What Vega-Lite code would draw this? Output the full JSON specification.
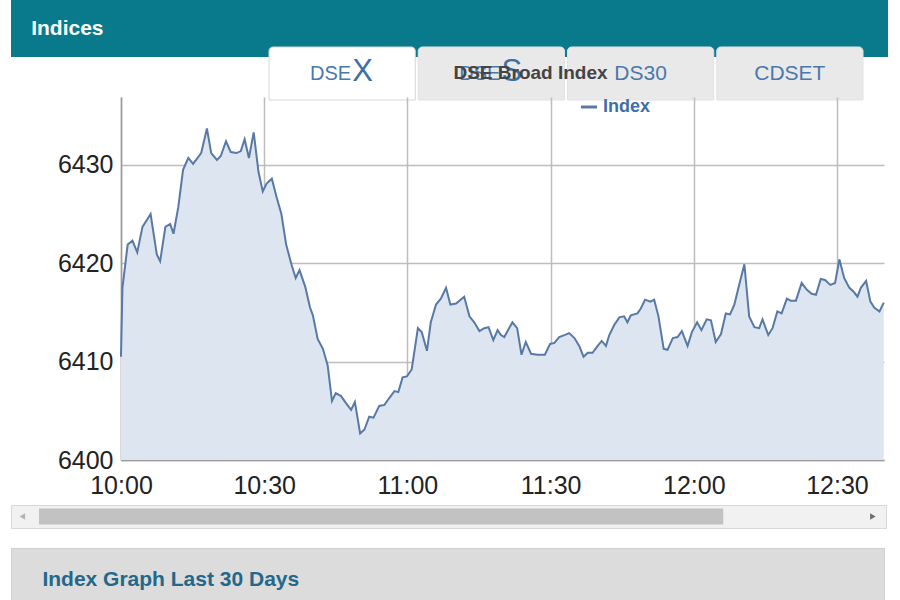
{
  "$schema": "https://vega.github.io/schema/vega-lite/v6.json",
  "padding": {"left": 10, "top": 0, "right": 13, "bottom": 0},
  "background": "white",
  "spacing": 0,
  "bounds": "flush",
  "config": {"view": {"stroke": null}, "font": "Liberation Sans"},
  "datasets": {
    "series": [
      {"time": "2024-01-01T10:00:00", "index": 6410.5},
      {"time": "2024-01-01T10:00:18", "index": 6417.5},
      {"time": "2024-01-01T10:01:24", "index": 6421.9},
      {"time": "2024-01-01T10:02:24", "index": 6422.3},
      {"time": "2024-01-01T10:03:24", "index": 6421.1},
      {"time": "2024-01-01T10:04:30", "index": 6423.7},
      {"time": "2024-01-01T10:06:12", "index": 6425.0},
      {"time": "2024-01-01T10:07:30", "index": 6420.9},
      {"time": "2024-01-01T10:08:12", "index": 6420.2},
      {"time": "2024-01-01T10:09:18", "index": 6423.7},
      {"time": "2024-01-01T10:10:18", "index": 6424.0},
      {"time": "2024-01-01T10:11:00", "index": 6423.0},
      {"time": "2024-01-01T10:12:00", "index": 6425.7},
      {"time": "2024-01-01T10:13:00", "index": 6429.5},
      {"time": "2024-01-01T10:14:06", "index": 6430.7},
      {"time": "2024-01-01T10:15:06", "index": 6430.1},
      {"time": "2024-01-01T10:16:48", "index": 6431.2},
      {"time": "2024-01-01T10:18:00", "index": 6433.7},
      {"time": "2024-01-01T10:18:54", "index": 6431.2},
      {"time": "2024-01-01T10:20:06", "index": 6430.5},
      {"time": "2024-01-01T10:20:54", "index": 6430.9},
      {"time": "2024-01-01T10:22:00", "index": 6432.4},
      {"time": "2024-01-01T10:23:00", "index": 6431.3},
      {"time": "2024-01-01T10:24:12", "index": 6431.2},
      {"time": "2024-01-01T10:25:06", "index": 6431.4},
      {"time": "2024-01-01T10:25:54", "index": 6432.6},
      {"time": "2024-01-01T10:26:48", "index": 6430.7},
      {"time": "2024-01-01T10:27:48", "index": 6433.3},
      {"time": "2024-01-01T10:28:48", "index": 6429.3},
      {"time": "2024-01-01T10:29:42", "index": 6427.3},
      {"time": "2024-01-01T10:30:30", "index": 6428.1},
      {"time": "2024-01-01T10:31:36", "index": 6428.6},
      {"time": "2024-01-01T10:32:36", "index": 6426.7},
      {"time": "2024-01-01T10:33:36", "index": 6425.0},
      {"time": "2024-01-01T10:34:36", "index": 6421.9},
      {"time": "2024-01-01T10:35:42", "index": 6419.9},
      {"time": "2024-01-01T10:36:36", "index": 6418.5},
      {"time": "2024-01-01T10:37:24", "index": 6419.3},
      {"time": "2024-01-01T10:38:36", "index": 6417.6},
      {"time": "2024-01-01T10:39:36", "index": 6415.5},
      {"time": "2024-01-01T10:40:12", "index": 6414.7},
      {"time": "2024-01-01T10:41:12", "index": 6412.3},
      {"time": "2024-01-01T10:42:18", "index": 6411.3},
      {"time": "2024-01-01T10:43:18", "index": 6409.6},
      {"time": "2024-01-01T10:44:12", "index": 6406.0},
      {"time": "2024-01-01T10:45:00", "index": 6406.8},
      {"time": "2024-01-01T10:46:06", "index": 6406.5},
      {"time": "2024-01-01T10:47:06", "index": 6405.8},
      {"time": "2024-01-01T10:48:12", "index": 6405.1},
      {"time": "2024-01-01T10:49:00", "index": 6405.9},
      {"time": "2024-01-01T10:50:06", "index": 6402.7},
      {"time": "2024-01-01T10:51:00", "index": 6403.1},
      {"time": "2024-01-01T10:52:00", "index": 6404.4},
      {"time": "2024-01-01T10:52:54", "index": 6404.3},
      {"time": "2024-01-01T10:54:06", "index": 6405.5},
      {"time": "2024-01-01T10:55:12", "index": 6405.6},
      {"time": "2024-01-01T10:56:12", "index": 6406.3},
      {"time": "2024-01-01T10:57:18", "index": 6407.0},
      {"time": "2024-01-01T10:58:06", "index": 6406.9},
      {"time": "2024-01-01T10:59:00", "index": 6408.4},
      {"time": "2024-01-01T10:59:54", "index": 6408.5},
      {"time": "2024-01-01T11:00:54", "index": 6409.2},
      {"time": "2024-01-01T11:02:12", "index": 6413.4},
      {"time": "2024-01-01T11:03:00", "index": 6413.0},
      {"time": "2024-01-01T11:04:06", "index": 6411.1},
      {"time": "2024-01-01T11:04:54", "index": 6414.0},
      {"time": "2024-01-01T11:06:00", "index": 6415.8},
      {"time": "2024-01-01T11:07:00", "index": 6416.4},
      {"time": "2024-01-01T11:08:06", "index": 6417.5},
      {"time": "2024-01-01T11:09:00", "index": 6415.8},
      {"time": "2024-01-01T11:10:12", "index": 6415.9},
      {"time": "2024-01-01T11:11:54", "index": 6416.6},
      {"time": "2024-01-01T11:13:00", "index": 6414.6},
      {"time": "2024-01-01T11:14:00", "index": 6414.0},
      {"time": "2024-01-01T11:15:06", "index": 6413.1},
      {"time": "2024-01-01T11:16:06", "index": 6413.4},
      {"time": "2024-01-01T11:17:00", "index": 6413.5},
      {"time": "2024-01-01T11:18:00", "index": 6412.2},
      {"time": "2024-01-01T11:18:54", "index": 6413.2},
      {"time": "2024-01-01T11:19:36", "index": 6412.7},
      {"time": "2024-01-01T11:20:18", "index": 6412.5},
      {"time": "2024-01-01T11:21:18", "index": 6413.4},
      {"time": "2024-01-01T11:22:00", "index": 6414.0},
      {"time": "2024-01-01T11:23:00", "index": 6413.4},
      {"time": "2024-01-01T11:23:54", "index": 6410.7},
      {"time": "2024-01-01T11:24:48", "index": 6412.0},
      {"time": "2024-01-01T11:25:54", "index": 6410.8},
      {"time": "2024-01-01T11:27:18", "index": 6410.7},
      {"time": "2024-01-01T11:28:48", "index": 6410.7},
      {"time": "2024-01-01T11:29:54", "index": 6411.8},
      {"time": "2024-01-01T11:30:48", "index": 6411.9},
      {"time": "2024-01-01T11:31:48", "index": 6412.5},
      {"time": "2024-01-01T11:32:54", "index": 6412.7},
      {"time": "2024-01-01T11:33:54", "index": 6412.9},
      {"time": "2024-01-01T11:35:00", "index": 6412.4},
      {"time": "2024-01-01T11:36:00", "index": 6411.6},
      {"time": "2024-01-01T11:36:54", "index": 6410.5},
      {"time": "2024-01-01T11:37:48", "index": 6410.9},
      {"time": "2024-01-01T11:38:48", "index": 6410.9},
      {"time": "2024-01-01T11:39:42", "index": 6411.5},
      {"time": "2024-01-01T11:40:42", "index": 6412.1},
      {"time": "2024-01-01T11:41:36", "index": 6411.6},
      {"time": "2024-01-01T11:42:18", "index": 6412.7},
      {"time": "2024-01-01T11:43:18", "index": 6413.7},
      {"time": "2024-01-01T11:44:24", "index": 6414.5},
      {"time": "2024-01-01T11:45:24", "index": 6414.6},
      {"time": "2024-01-01T11:46:06", "index": 6414.0},
      {"time": "2024-01-01T11:46:48", "index": 6414.7},
      {"time": "2024-01-01T11:48:12", "index": 6414.9},
      {"time": "2024-01-01T11:48:54", "index": 6415.4},
      {"time": "2024-01-01T11:49:48", "index": 6416.3},
      {"time": "2024-01-01T11:50:54", "index": 6416.1},
      {"time": "2024-01-01T11:51:42", "index": 6416.3},
      {"time": "2024-01-01T11:52:36", "index": 6414.6},
      {"time": "2024-01-01T11:53:42", "index": 6411.3},
      {"time": "2024-01-01T11:54:30", "index": 6411.2},
      {"time": "2024-01-01T11:55:36", "index": 6412.4},
      {"time": "2024-01-01T11:56:36", "index": 6412.5},
      {"time": "2024-01-01T11:57:30", "index": 6413.1},
      {"time": "2024-01-01T11:58:42", "index": 6411.6},
      {"time": "2024-01-01T11:59:36", "index": 6413.0},
      {"time": "2024-01-01T12:00:42", "index": 6414.0},
      {"time": "2024-01-01T12:01:36", "index": 6413.2},
      {"time": "2024-01-01T12:02:42", "index": 6414.3},
      {"time": "2024-01-01T12:03:36", "index": 6414.2},
      {"time": "2024-01-01T12:04:36", "index": 6412.0},
      {"time": "2024-01-01T12:05:42", "index": 6412.8},
      {"time": "2024-01-01T12:06:42", "index": 6414.9},
      {"time": "2024-01-01T12:07:36", "index": 6414.8},
      {"time": "2024-01-01T12:08:30", "index": 6415.8},
      {"time": "2024-01-01T12:09:30", "index": 6417.8},
      {"time": "2024-01-01T12:10:36", "index": 6419.9},
      {"time": "2024-01-01T12:11:36", "index": 6414.6},
      {"time": "2024-01-01T12:12:42", "index": 6413.5},
      {"time": "2024-01-01T12:13:42", "index": 6413.4},
      {"time": "2024-01-01T12:14:24", "index": 6414.3},
      {"time": "2024-01-01T12:15:36", "index": 6412.7},
      {"time": "2024-01-01T12:16:30", "index": 6413.4},
      {"time": "2024-01-01T12:17:30", "index": 6415.1},
      {"time": "2024-01-01T12:18:24", "index": 6414.9},
      {"time": "2024-01-01T12:19:30", "index": 6416.4},
      {"time": "2024-01-01T12:20:18", "index": 6416.2},
      {"time": "2024-01-01T12:21:24", "index": 6416.2},
      {"time": "2024-01-01T12:22:36", "index": 6418.0},
      {"time": "2024-01-01T12:23:42", "index": 6417.3},
      {"time": "2024-01-01T12:24:42", "index": 6416.9},
      {"time": "2024-01-01T12:25:36", "index": 6416.8},
      {"time": "2024-01-01T12:26:36", "index": 6418.4},
      {"time": "2024-01-01T12:27:30", "index": 6418.3},
      {"time": "2024-01-01T12:28:36", "index": 6417.8},
      {"time": "2024-01-01T12:29:36", "index": 6418.0},
      {"time": "2024-01-01T12:30:30", "index": 6420.4},
      {"time": "2024-01-01T12:31:30", "index": 6418.5},
      {"time": "2024-01-01T12:32:36", "index": 6417.5},
      {"time": "2024-01-01T12:33:30", "index": 6417.1},
      {"time": "2024-01-01T12:34:18", "index": 6416.6},
      {"time": "2024-01-01T12:35:00", "index": 6417.5},
      {"time": "2024-01-01T12:36:06", "index": 6418.2},
      {"time": "2024-01-01T12:37:00", "index": 6416.1},
      {"time": "2024-01-01T12:37:48", "index": 6415.5},
      {"time": "2024-01-01T12:38:54", "index": 6415.1},
      {"time": "2024-01-01T12:39:48", "index": 6416.0}
    ],
    "tabs": [
      {"tab": "DSEX", "small": "DSE", "big": "X", "selected": true},
      {"tab": "DSES", "small": "DSE", "big": "S", "selected": false},
      {"tab": "DS30", "small": "DS30", "big": "", "selected": false},
      {"tab": "CDSET", "small": "CDSET", "big": "", "selected": false}
    ]
  },
  "vconcat": [
    {
      "width": 877,
      "height": 57,
      "view": {"fill": "#087a8c", "stroke": null},
      "data": {"values": [{"label": "Indices"}]},
      "mark": {"type": "text", "align": "left", "baseline": "middle", "fontSize": 21, "fontWeight": "bold", "color": "white"},
      "encoding": {
        "x": {"datum": 0.023, "type": "quantitative", "scale": {"domain": [0, 1]}, "axis": null},
        "y": {"datum": 0.5, "type": "quantitative", "scale": {"domain": [0, 1]}, "axis": null},
        "text": {"field": "label"}
      }
    },
    {
      "width": 877,
      "height": 40,
      "data": {"name": "tabs"},
      "encoding": {
        "x": {"field": "tab", "type": "nominal", "sort": null, "scale": {"paddingInner": 0.02, "paddingOuter": 0, "range": [258, 852]}, "axis": null}
      },
      "layer": [
        {
          "mark": {"type": "bar", "cornerRadiusTopLeft": 4, "cornerRadiusTopRight": 4, "strokeWidth": 1},
          "encoding": {
            "y": {"datum": 1.25, "type": "quantitative", "scale": {"domain": [0, 1]}, "axis": null},
            "y2": {"datum": -0.075},
            "fill": {"condition": {"test": "datum.selected", "value": "#ffffff"}, "value": "#e9e9e9"},
            "stroke": {"condition": {"test": "datum.selected", "value": "#d6d6d6"}, "value": "#e2e2e2"}
          }
        },
        {
          "transform": [{"filter": "datum.big === ''"}],
          "mark": {"type": "text", "baseline": "middle", "fontSize": 21, "color": "#4a78ad"},
          "encoding": {
            "y": {"datum": 0.58, "type": "quantitative"},
            "text": {"field": "small"}
          }
        },
        {
          "transform": [{"filter": "datum.big !== ''"}],
          "mark": {"type": "text", "baseline": "middle", "align": "right", "dx": 9, "fontSize": 20, "color": "#4a78ad"},
          "encoding": {
            "y": {"datum": 0.58, "type": "quantitative"},
            "text": {"field": "small"}
          }
        },
        {
          "transform": [{"filter": "datum.big !== ''"}],
          "mark": {"type": "text", "baseline": "middle", "align": "left", "dx": 10, "dy": -2, "fontSize": 31, "color": "#3d6fa8"},
          "encoding": {
            "y": {"datum": 0.58, "type": "quantitative"},
            "text": {"field": "big"}
          }
        }
      ]
    },
    {
      "width": 877,
      "height": 363,
      "title": {"text": "DSE Broad Index", "fontSize": 19, "fontWeight": "bold", "color": "#444444", "anchor": "middle", "dx": 81, "offset": 14},
      "data": {"name": "series"},
      "encoding": {
        "x": {
          "field": "time",
          "type": "temporal",
          "scale": {
            "domain": [{"year": 2024, "month": 1, "date": 1, "hours": 10, "minutes": 0}, {"year": 2024, "month": 1, "date": 1, "hours": 12, "minutes": 39, "seconds": 51}],
            "range": [110, 873]
          },
          "axis": {
            "title": null,
            "format": "%H:%M",
            "values": [
              {"year": 2024, "month": 1, "date": 1, "hours": 10, "minutes": 0},
              {"year": 2024, "month": 1, "date": 1, "hours": 10, "minutes": 30},
              {"year": 2024, "month": 1, "date": 1, "hours": 11, "minutes": 0},
              {"year": 2024, "month": 1, "date": 1, "hours": 11, "minutes": 30},
              {"year": 2024, "month": 1, "date": 1, "hours": 12, "minutes": 0},
              {"year": 2024, "month": 1, "date": 1, "hours": 12, "minutes": 30}
            ],
            "grid": true,
            "ticks": false,
            "labelFontSize": 25,
            "labelColor": "#222222",
            "labelPadding": 13,
            "labelFlush": false,
            "gridColor": "#bdbdbd",
            "gridWidth": 1.5,
            "domainColor": "#9a9a9a",
            "domainWidth": 1.5
          }
        },
        "y": {
          "field": "index",
          "type": "quantitative",
          "scale": {"domain": [6400, 6436.9], "nice": false, "zero": false},
          "axis": {
            "title": null,
            "format": "d",
            "offset": -110,
            "values": [6400, 6410, 6420, 6430],
            "grid": true,
            "ticks": false,
            "labelFontSize": 25,
            "labelColor": "#222222",
            "labelPadding": 8,
            "gridColor": "#bdbdbd",
            "gridWidth": 1.5,
            "domainColor": "#9a9a9a",
            "domainWidth": 1.5
          }
        }
      },
      "layer": [
        {
          "mark": {"type": "area", "color": "#dde6f0", "opacity": 1},
          "encoding": {"y2": {"datum": 6400}}
        },
        {
          "mark": {"type": "line", "strokeWidth": 2},
          "encoding": {
            "color": {
              "datum": "Index",
              "type": "nominal",
              "scale": {"range": ["#5879a6"]},
              "legend": {
                "title": null,
                "orient": "none",
                "legendX": 568,
                "legendY": 97,
                "padding": 0,
                "symbolType": "stroke",
                "symbolStrokeWidth": 3,
                "symbolSize": 260,
                "labelFontSize": 18,
                "labelFontWeight": "bold",
                "labelColor": "#3d6fa8"
              }
            }
          }
        }
      ]
    },
    {"width": 875, "height": 45, "data": {"values": []}, "mark": "point", "encoding": {}},
    {
      "width": 875,
      "height": 23,
      "view": {"fill": "#f1f1f1", "stroke": "#d8d8d8"},
      "data": {"values": [{"part": "track"}]},
      "layer": [
        {
          "mark": {"type": "rect", "color": "#c2c2c2"},
          "encoding": {
            "x": {"datum": 0.032, "type": "quantitative", "scale": {"domain": [0, 1]}, "axis": null},
            "x2": {"datum": 0.814},
            "y": {"datum": 0.85, "type": "quantitative", "scale": {"domain": [0, 1]}, "axis": null},
            "y2": {"datum": 0.15}
          }
        },
        {
          "mark": {"type": "point", "shape": "triangle-left", "filled": true, "size": 40, "color": "#9a9a9a"},
          "encoding": {
            "x": {"datum": 0.013, "type": "quantitative"},
            "y": {"datum": 0.5, "type": "quantitative"}
          }
        },
        {
          "mark": {"type": "point", "shape": "triangle-right", "filled": true, "size": 40, "color": "#333333"},
          "encoding": {
            "x": {"datum": 0.985, "type": "quantitative"},
            "y": {"datum": 0.5, "type": "quantitative"}
          }
        }
      ]
    },
    {"width": 875, "height": 20, "data": {"values": []}, "mark": "point", "encoding": {}},
    {
      "width": 873,
      "height": 52,
      "view": {"fill": "#dcdcdc", "stroke": "#d0d0d0"},
      "data": {"values": [{"label": "Index Graph Last 30 Days"}]},
      "mark": {"type": "text", "align": "left", "baseline": "middle", "fontSize": 21, "fontWeight": "bold", "color": "#23688a"},
      "encoding": {
        "x": {"datum": 0.036, "type": "quantitative", "scale": {"domain": [0, 1]}, "axis": null},
        "y": {"datum": 0.385, "type": "quantitative", "scale": {"domain": [0, 1]}, "axis": null},
        "text": {"field": "label"}
      }
    }
  ]
}
